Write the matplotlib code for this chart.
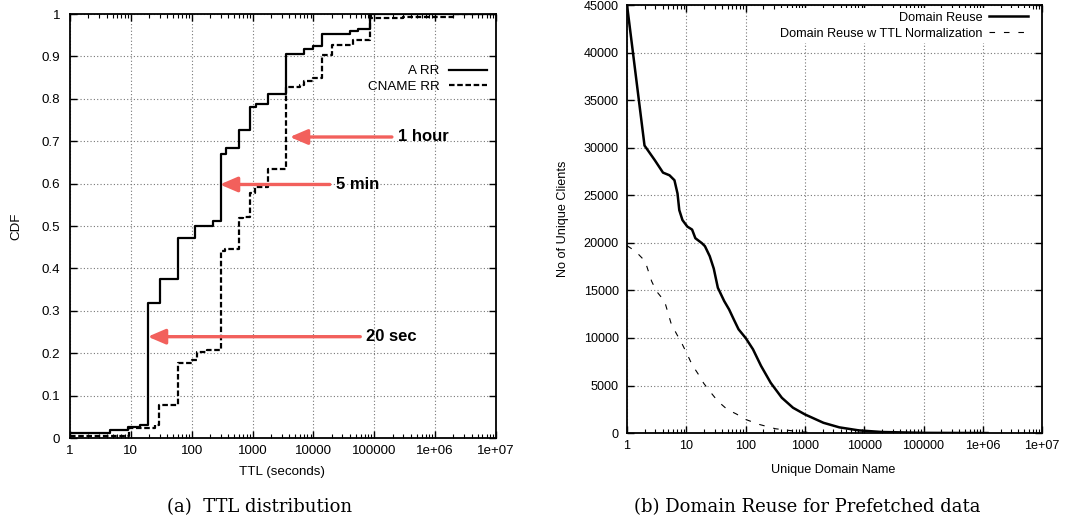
import matplotlib
matplotlib.use("Agg")
from matplotlib import pyplot as plt
import numpy as np

plt.rcParams["font.family"] = ["Liberation Sans", "DejaVu Sans"]
plt.rcParams["font.size"] = 9.5

# (a) TTL distribution: step CDFs (TTL in seconds, cumulative fraction)
a_rr_ttl = [1, 4.5, 9, 14, 19, 30, 60, 115, 220, 300, 370, 600, 900, 1150,
            1800, 3600, 7000, 10000, 14000, 40000, 55000, 86400, 1e7]
a_rr_cdf = [0.013, 0.02, 0.027, 0.03, 0.318, 0.374, 0.472, 0.500, 0.512, 0.671,
            0.685, 0.726, 0.781, 0.788, 0.811, 0.906, 0.917, 0.925, 0.954,
            0.960, 0.965, 1.0, 1.0]

cname_ttl = [1, 9.5, 25, 29, 59, 100, 120, 180, 300, 350, 600, 700, 900, 1100,
             1800, 3600, 6000, 7000, 10000, 14000, 20000, 44000, 86400, 300000,
             2e6, 1e7]
cname_cdf = [0.004, 0.024, 0.03, 0.078, 0.178, 0.185, 0.202, 0.207, 0.44, 0.446,
             0.52, 0.522, 0.578, 0.591, 0.634, 0.827, 0.833, 0.843, 0.848, 0.903,
             0.928, 0.939, 0.99, 0.993, 1.0, 1.0]

# arrows: (label, tail x, head x, y)
arrow_labels = ["1 hour", "5 min", "20 sec"]
arrow_tail_x = [1.95e5, 1.86e4, 5.9e4]
arrow_head_x = [4100, 290, 19]
arrow_y = [0.71, 0.598, 0.239]

# (b) Domain reuse for prefetched data
reuse_x = [1, 1.97, 2.95, 4.04, 5.2, 6.3, 7.1, 7.6, 8.6, 10.4, 12.5, 14.2, 18.3,
           20.6, 24.8, 29, 34, 43.5, 52.6, 63, 76, 100, 133, 182, 265, 408, 630,
           1000, 2050, 3800, 8100, 20000, 100000, 1.2e6]
reuse_y = [45000, 30240, 28680, 27390, 27110, 26590, 25190, 23450, 22400, 21710,
           21400, 20490, 19970, 19650, 18600, 17300, 15280, 13880, 13000, 11960,
           10910, 10000, 8810, 7060, 5280, 3710, 2660, 1960, 1080, 600, 280, 110,
           20, 0]

norm_x = [1, 1.39, 2.02, 2.6, 3.14, 4.3, 5.5, 6.7, 8.6, 10.4, 12.5, 16.1, 19.5,
          24.8, 34, 49, 70, 100, 171, 320, 680, 1000, 1500]
norm_y = [19700, 19120, 18070, 15960, 14910, 13860, 11580, 10530, 9300, 8250,
          7190, 6140, 5260, 4400, 3350, 2480, 2000, 1430, 900, 450, 200, 100, 30]

xticks = [1, 10, 100, 1000, 10000, 100000, 1e6, 1e7]
xtick_labels = ["1", "10", "100", "1000", "10000", "100000", "1e+06", "1e+07"]

arrow_color = "#f2605c"
grid_style = dict(color="#777777", linestyle=(0, (1, 2)), linewidth=0.8)
caption_font = ["DejaVu Serif"]

fig = plt.figure(figsize=(10.8, 5.18), dpi=100)
ax1 = fig.add_axes([0.0648, 0.1544, 0.3944, 0.8185])
ax2 = fig.add_axes([0.5806, 0.164, 0.3843, 0.826])


def style_axes(ax, fs):
    ax.set_xscale("log")
    ax.set_xlim(1, 1e7)
    ax.set_xticks(xticks)
    ax.set_xticklabels(xtick_labels)
    ax.xaxis.set_minor_locator(matplotlib.ticker.LogLocator(base=10, subs=np.arange(2, 10)))
    ax.xaxis.set_minor_formatter(matplotlib.ticker.NullFormatter())
    ax.tick_params(which="both", direction="in", top=True, right=True, labelsize=fs)
    ax.tick_params(which="major", length=5, width=1)
    ax.tick_params(which="minor", length=3, width=0.8)
    ax.tick_params(axis="x", pad=5)
    ax.grid(True, which="major", **grid_style)
    for s in ax.spines.values():
        s.set_linewidth(1.3)


# left panel
fs1 = 9.6
style_axes(ax1, fs1)
ax1.step(a_rr_ttl, a_rr_cdf, where="post", color="black", lw=1.6, label="A RR")
ax1.step(cname_ttl, cname_cdf, where="post", color="black", lw=1.6,
         linestyle=(0, (2.5, 1.2)), label="CNAME RR")
ax1.set_ylim(0, 1)
ax1.set_yticks(np.arange(0, 1.01, 0.1))
ax1.set_yticklabels(["0", "0.1", "0.2", "0.3", "0.4", "0.5", "0.6", "0.7", "0.8", "0.9", "1"])
ax1.tick_params(axis="y", pad=7)
ax1.set_xlabel("TTL (seconds)", fontsize=fs1)
ax1.set_ylabel("CDF", fontsize=fs1)
ax1.xaxis.set_label_coords(0.498, -0.066)
ax1.yaxis.set_label_coords(-0.112, 0.5)
ax1.legend(loc="upper right", bbox_to_anchor=(1.002, 0.902), frameon=False,
           markerfirst=False, handlelength=2.9, labelspacing=0.22, fontsize=fs1,
           borderpad=0.2, handletextpad=0.7)

for lab, tx, hx, y in zip(arrow_labels, arrow_tail_x, arrow_head_x, arrow_y):
    ax1.annotate("", xy=(hx, y), xytext=(tx, y),
                 arrowprops=dict(arrowstyle="-|>,head_length=0.7,head_width=0.3",
                                 color=arrow_color, lw=2.4, mutation_scale=15,
                                 shrinkA=0, shrinkB=0))
    ax1.text(tx * 1.25, y, lab, fontsize=12, fontweight="bold", va="center", ha="left")

# right panel
fs2 = 9.1
style_axes(ax2, fs2)
ax2.plot(reuse_x, reuse_y, color="black", lw=1.8, label="Domain Reuse")
ax2.plot(norm_x, norm_y, color="black", lw=0.8, linestyle=(0, (5, 8)),
         label="Domain Reuse w TTL Normalization")
ax2.set_ylim(0, 45000)
ax2.set_yticks(np.arange(0, 45001, 5000))
ax2.tick_params(axis="y", pad=6)
ax2.set_xlabel("Unique Domain Name", fontsize=fs2)
ax2.set_ylabel("No of Unique Clients", fontsize=fs2)
ax2.xaxis.set_label_coords(0.496, -0.072)
ax2.yaxis.set_label_coords(-0.14, 0.5)
leg = ax2.legend(loc="upper right", bbox_to_anchor=(0.99, 1.008), frameon=True,
                 markerfirst=False, handlelength=3.1, labelspacing=0.3, fontsize=fs2,
                 borderpad=0.3, handletextpad=0.5, fancybox=False)
leg.get_frame().set_edgecolor("none")
leg.get_frame().set_facecolor("white")
leg.get_frame().set_alpha(1)

fig.text(260 / 1080, 1 - 507 / 518, "(a)  TTL distribution", ha="center", va="center",
         fontsize=13, family=caption_font)
fig.text(807 / 1080, 1 - 507 / 518, "(b) Domain Reuse for Prefetched data", ha="center",
         va="center", fontsize=13, family=caption_font)

fig.savefig("out.png", dpi=100)
